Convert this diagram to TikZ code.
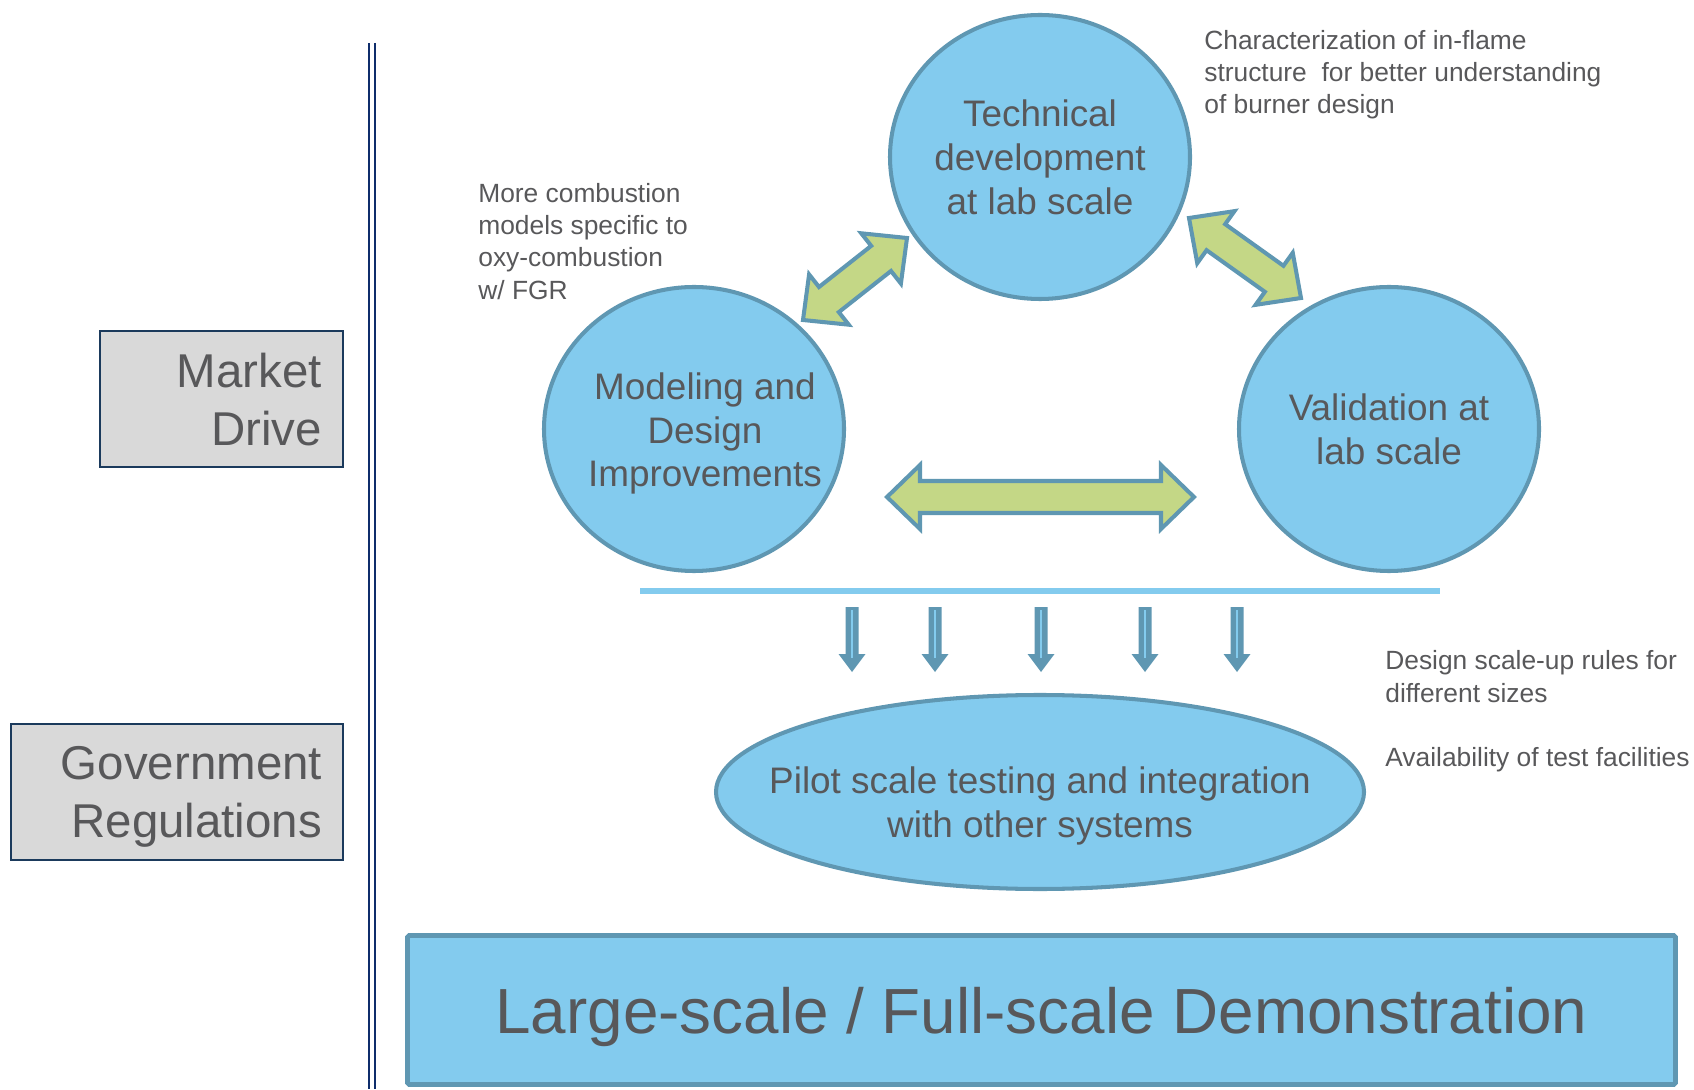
\documentclass[tikz,border=0pt]{standalone}
\usepackage{fontspec}
\setmainfont{Liberation Sans}
\usetikzlibrary{calc,shapes.geometric}
\definecolor{sky}{HTML}{83CBEE}
\definecolor{steel}{HTML}{5F97B2}
\definecolor{leaf}{HTML}{C4D786}
\definecolor{ink}{HTML}{58585A}
\definecolor{navy}{HTML}{0F2D6B}
\definecolor{panel}{HTML}{D9D9D9}
\definecolor{panelline}{HTML}{1B3A5C}

\tikzset{
  bubble/.style={ellipse,draw=steel,line width=2.3pt,fill=sky,inner sep=0pt},
  say/.style={text=ink,align=center,inner sep=0pt,font=\fontsize{21}{25}\selectfont},
  blockarrow/.style={draw=steel,line width=2.3pt,fill=leaf},
  sidebox/.style={draw=panelline,line width=1pt,fill=panel,text=ink,align=right,
    inner xsep=0.42cm,minimum height=2.72cm,text depth=33pt,
    font=\fontsize{27}{33}\selectfont},
  note/.style={text=ink,align=left,anchor=north west,inner sep=0pt,
    font=\fontsize{15}{18.4}\selectfont}
}

% two-headed block arrow between two named points
\newcommand{\ahead}{0.66cm}
\newcommand{\awing}{0.64cm}
\newcommand{\ashaft}{0.32cm}
\newcommand{\twoway}[2]{%
  \filldraw[blockarrow] (#1)
    -- ($(#1)!\ahead!(#2)!\awing!90:(#2)$)
    -- ($(#1)!\ahead!(#2)!\ashaft!90:(#2)$)
    -- ($(#2)!\ahead!(#1)!\ashaft!-90:(#1)$)
    -- ($(#2)!\ahead!(#1)!\awing!-90:(#1)$)
    -- (#2)
    -- ($(#2)!\ahead!(#1)!\awing!90:(#1)$)
    -- ($(#2)!\ahead!(#1)!\ashaft!90:(#1)$)
    -- ($(#1)!\ahead!(#2)!\ashaft!-90:(#2)$)
    -- ($(#1)!\ahead!(#2)!\awing!-90:(#2)$)
    -- cycle;}

\begin{document}
\begin{tikzpicture}
  \useasboundingbox (0,0) rectangle (33.88,21.78);

  % drivers on the left
  \node[sidebox,minimum width=4.86cm,text width=4.02cm] (market) at (4.43,13.80) {Market\\Drive};
  \node[sidebox,minimum width=6.64cm,text width=5.80cm] (govt) at (3.54,5.94) {Government\\Regulations};
  \draw[navy,line width=1.13pt,double=white,double distance=2.27pt] (7.44,20.92) -- (7.44,0);

  % lab scale loop
  \node[bubble,minimum width=6.00cm,minimum height=5.68cm,
    label={[say]center:{Technical\\development\\at lab scale}}] (tech) at (20.80,18.64) {};
  \node[bubble,minimum width=6.00cm,minimum height=5.68cm,
    label={[say,xshift=0.22cm,yshift=-0.09cm]center:{Modeling and\\Design\\Improvements}}] (model) at (13.88,13.20) {};
  \node[bubble,minimum width=6.00cm,minimum height=5.68cm,
    label={[say]center:{Validation at\\lab scale}}] (valid) at (27.78,13.20) {};

  \coordinate (lm) at (16.06,15.38);
  \coordinate (lt) at (18.14,17.02);
  \coordinate (rt) at (23.78,17.42);
  \coordinate (rv) at (26.02,15.82);
  \coordinate (hm) at (17.74,11.84);
  \coordinate (hv) at (23.88,11.84);
  \twoway{lm}{lt}
  \twoway{rt}{rv}
  \twoway{hm}{hv}

  % side notes
  \node[note] (flame) at (24.08,21.185) {Characterization of in-flame\\structure\ \ for better understanding\\of burner design};
  \node[note] (models) at (9.56,18.125) {More combustion\\models specific to\\oxy-combustion\\w/ FGR};
  \node[note] (rules) at (27.70,8.77) {Design scale-up rules for\\different sizes};
  \node[note] (tests) at (27.70,6.84) {Availability of test facilities};

  % step down to pilot scale
  \draw[sky,line width=3.4pt] (12.80,9.96) -- (28.80,9.96);
  \foreach \x in {17.04,18.70,20.82,22.90,24.74} {
    \fill[steel] (\x-0.13,9.64) -- (\x+0.13,9.64) -- (\x+0.13,8.70) -- (\x+0.27,8.70)
      -- (\x,8.34) -- (\x-0.27,8.70) -- (\x-0.13,8.70) -- cycle;
    \draw[sky,line width=1pt] (\x,9.58) -- (\x,8.62);
  }

  \node[bubble,minimum width=12.96cm,minimum height=3.88cm,
    label={[say,yshift=-0.27cm]center:{Pilot scale testing and integration\\with other systems}}] (pilot) at (20.80,5.94) {};

  \node[draw=steel,line width=2.8pt,fill=sky,text=ink,rounded corners=1pt,
    minimum width=25.36cm,minimum height=2.98cm,text height=0.92cm,text depth=0cm,
    font=\fontsize{36.3}{43}\selectfont] (demo) at (20.83,1.58) {Large-scale / Full-scale Demonstration};
\end{tikzpicture}
\end{document}
